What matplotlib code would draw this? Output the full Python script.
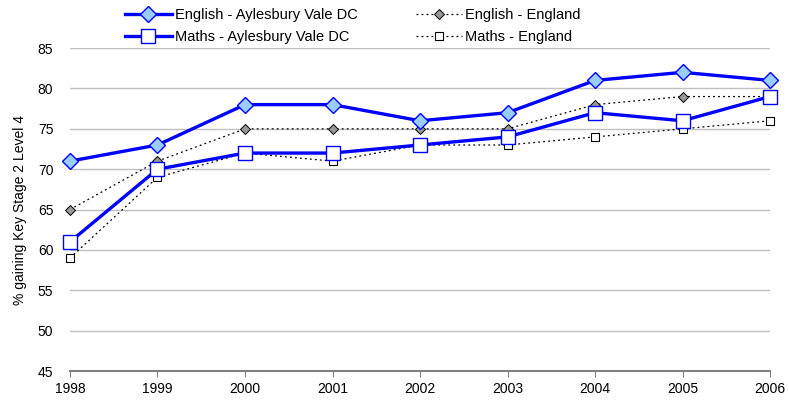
import matplotlib as mpl
mpl.use('Agg')
import matplotlib.pyplot as plt

years = [1998, 1999, 2000, 2001, 2002, 2003, 2004, 2005, 2006]
english_avdc = [71, 73, 78, 78, 76, 77, 81, 82, 81]
maths_avdc = [61, 70, 72, 72, 73, 74, 77, 76, 79]
english_eng = [65, 71, 75, 75, 75, 75, 78, 79, 79]
maths_eng = [59, 69, 72, 71, 73, 73, 74, 75, 76]

plt.rcParams['font.family'] = ['Liberation Sans', 'DejaVu Sans']
plt.rcParams['font.size'] = 10

fig = plt.figure(figsize=(7.89, 4.01), dpi=100)
ax = fig.add_axes([0.0887, 0.0748, 0.8873, 0.8052])

blue = '#0000ff'
ax.plot(years, english_avdc, color=blue, lw=2.4, marker='D', ms=8,
        mfc='#99ccff', mec=blue, mew=1, label='English - Aylesbury Vale DC',
        zorder=4, clip_on=False)
ax.plot(years, english_eng, color='black', lw=0.9, ls=(0, (1.5, 2.5)), marker='D', ms=5,
        mfc='#999999', mec='black', mew=0.7, label='English - England',
        zorder=3, clip_on=False)
ax.plot(years, maths_avdc, color=blue, lw=2.4, marker='s', ms=10,
        mfc='white', mec=blue, mew=1, label='Maths - Aylesbury Vale DC',
        zorder=4, clip_on=False)
ax.plot(years, maths_eng, color='black', lw=0.9, ls=(0, (1.5, 2.5)), marker='s', ms=6,
        mfc='white', mec='black', mew=0.8, label='Maths - England',
        zorder=3, clip_on=False)

ax.set_xlim(1998, 2006)
ax.set_ylim(45, 85)
ax.set_yticks(range(45, 86, 5))
ax.set_xticks(years)
ax.grid(axis='y', color='#c0c0c0', lw=1)
ax.set_axisbelow(True)
for s in ['top', 'right', 'left']:
    ax.spines[s].set_visible(False)
ax.spines['bottom'].set_color('#808080')
ax.spines['bottom'].set_linewidth(1.5)
ax.tick_params(axis='y', length=0, pad=12)
ax.tick_params(axis='x', length=4, color='#808080', direction='out', pad=4)
ax.set_ylabel('% gaining Key Stage 2 Level 4', labelpad=8)

handles, labels = ax.get_legend_handles_labels()
order = [0, 2, 1, 3]
fig.legend([handles[i] for i in order], [labels[i] for i in order],
           ncol=2, loc='upper left', bbox_to_anchor=(0.142, 1.012), frameon=False,
           fontsize=10.5, handlelength=3.2, columnspacing=4.0, labelspacing=0.55,
           handletextpad=0.2)

fig.savefig('out.png', dpi=100)
